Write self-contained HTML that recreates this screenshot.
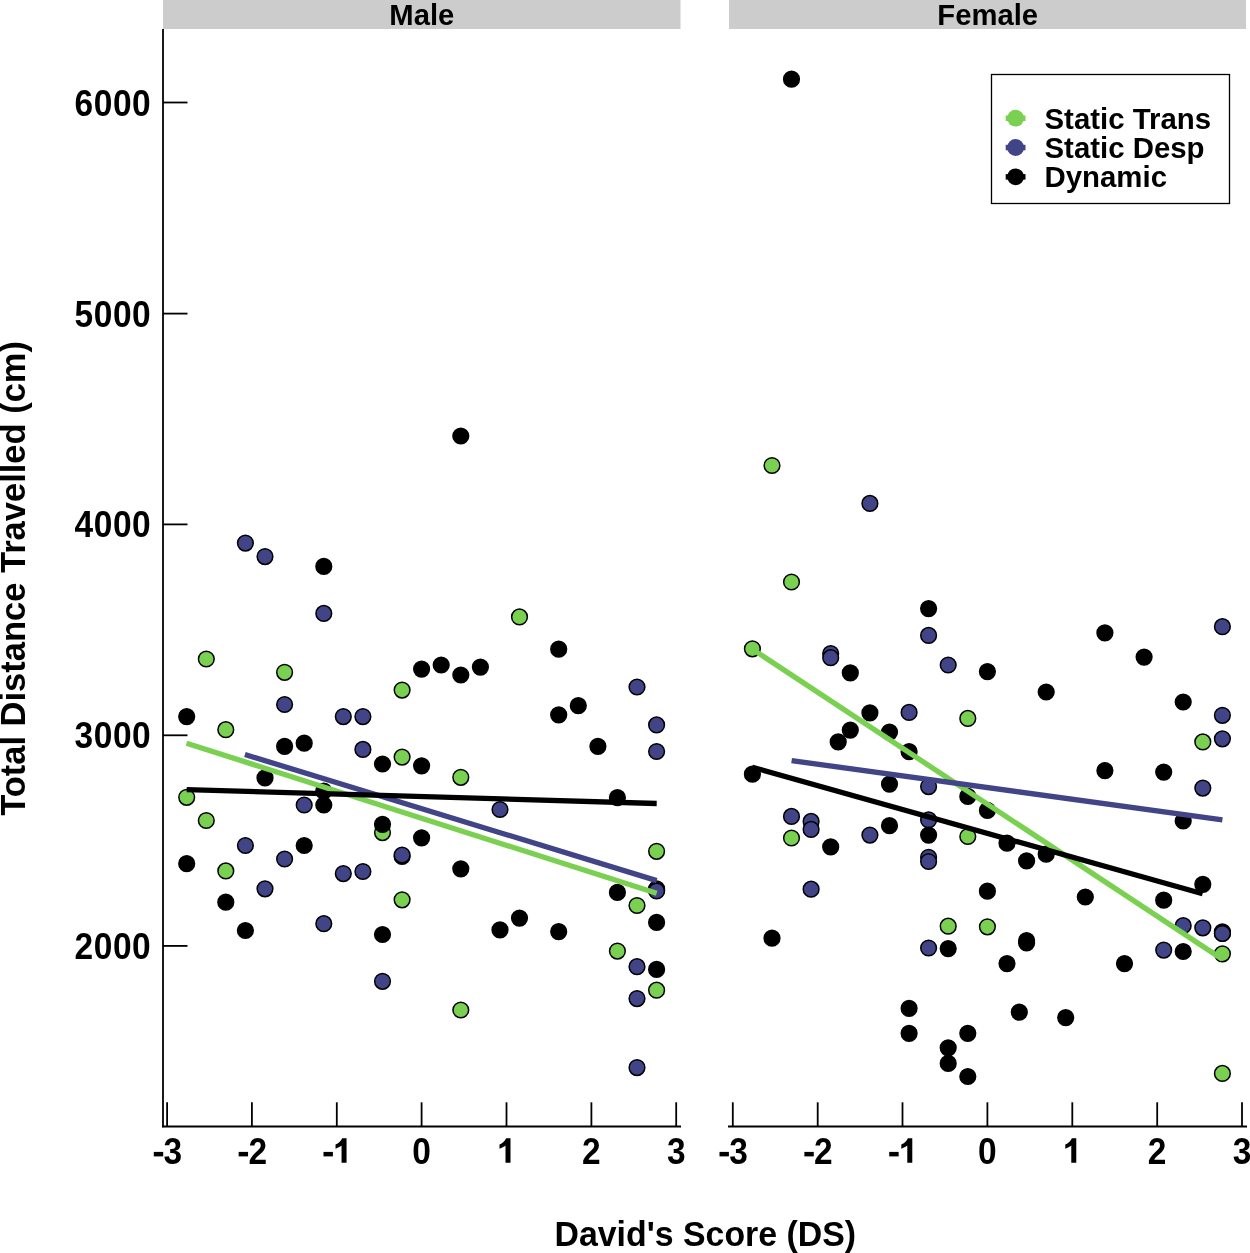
<!DOCTYPE html>
<html><head><meta charset="utf-8"><style>
html,body{margin:0;padding:0;background:#fff;}
svg{display:block;will-change:transform;}
text{font-family:"Liberation Sans",sans-serif;font-weight:bold;fill:#000;}
</style></head><body>
<svg width="1250" height="1253" viewBox="0 0 1250 1253">
<rect x="0" y="0" width="1250" height="1253" fill="#fff"/>
<rect x="163" y="0" width="517.5" height="29" fill="#cccccc"/>
<rect x="729" y="0" width="517" height="29" fill="#cccccc"/>
<g font-size="30"><text transform="translate(421.8,25.3) scale(0.975,1.0)" text-anchor="middle">Male</text><text transform="translate(987.7,25.3) scale(0.975,1.0)" text-anchor="middle">Female</text></g>
<g stroke="#000" stroke-width="1.5">
<circle cx="206.3" cy="659.0" r="7.85" fill="#7AD151"/>
<circle cx="284.6" cy="672.3" r="7.85" fill="#7AD151"/>
<circle cx="402.1" cy="690.1" r="7.85" fill="#7AD151"/>
<circle cx="225.8" cy="729.7" r="7.85" fill="#7AD151"/>
<circle cx="402.1" cy="757.1" r="7.85" fill="#7AD151"/>
<circle cx="186.7" cy="797.3" r="7.85" fill="#7AD151"/>
<circle cx="206.3" cy="820.5" r="7.85" fill="#7AD151"/>
<circle cx="382.5" cy="832.6" r="7.85" fill="#7AD151"/>
<circle cx="225.8" cy="870.9" r="7.85" fill="#7AD151"/>
<circle cx="402.1" cy="899.8" r="7.85" fill="#7AD151"/>
<circle cx="519.5" cy="616.9" r="7.85" fill="#7AD151"/>
<circle cx="460.8" cy="777.3" r="7.85" fill="#7AD151"/>
<circle cx="656.6" cy="851.3" r="7.85" fill="#7AD151"/>
<circle cx="637.0" cy="905.5" r="7.85" fill="#7AD151"/>
<circle cx="460.8" cy="1010.0" r="7.85" fill="#7AD151"/>
<circle cx="617.4" cy="951.1" r="7.85" fill="#7AD151"/>
<circle cx="656.6" cy="990.2" r="7.85" fill="#7AD151"/>
<circle cx="656.6" cy="888.8" r="7.85" fill="#7AD151"/>
<circle cx="245.4" cy="543.1" r="7.85" fill="#414487"/>
<circle cx="265.0" cy="556.6" r="7.85" fill="#414487"/>
<circle cx="323.8" cy="613.4" r="7.85" fill="#414487"/>
<circle cx="284.6" cy="704.5" r="7.85" fill="#414487"/>
<circle cx="343.3" cy="716.6" r="7.85" fill="#414487"/>
<circle cx="362.9" cy="716.6" r="7.85" fill="#414487"/>
<circle cx="362.9" cy="749.4" r="7.85" fill="#414487"/>
<circle cx="304.2" cy="805.0" r="7.85" fill="#414487"/>
<circle cx="245.4" cy="845.5" r="7.85" fill="#414487"/>
<circle cx="284.6" cy="859.0" r="7.85" fill="#414487"/>
<circle cx="343.3" cy="873.6" r="7.85" fill="#414487"/>
<circle cx="362.9" cy="871.5" r="7.85" fill="#414487"/>
<circle cx="265.0" cy="888.8" r="7.85" fill="#414487"/>
<circle cx="323.8" cy="923.7" r="7.85" fill="#414487"/>
<circle cx="382.5" cy="981.3" r="7.85" fill="#414487"/>
<circle cx="637.0" cy="687.0" r="7.85" fill="#414487"/>
<circle cx="656.6" cy="724.9" r="7.85" fill="#414487"/>
<circle cx="656.6" cy="751.5" r="7.85" fill="#414487"/>
<circle cx="500.0" cy="809.5" r="7.85" fill="#414487"/>
<circle cx="637.0" cy="966.7" r="7.85" fill="#414487"/>
<circle cx="637.0" cy="998.6" r="7.85" fill="#414487"/>
<circle cx="637.0" cy="1067.6" r="7.85" fill="#414487"/>
<circle cx="460.8" cy="436.0" r="7.85" fill="#000000"/>
<circle cx="323.8" cy="566.4" r="7.85" fill="#000000"/>
<circle cx="558.7" cy="649.2" r="7.85" fill="#000000"/>
<circle cx="421.6" cy="669.1" r="7.85" fill="#000000"/>
<circle cx="441.2" cy="665.0" r="7.85" fill="#000000"/>
<circle cx="460.8" cy="675.0" r="7.85" fill="#000000"/>
<circle cx="480.4" cy="667.1" r="7.85" fill="#000000"/>
<circle cx="186.7" cy="716.6" r="7.85" fill="#000000"/>
<circle cx="284.6" cy="746.3" r="7.85" fill="#000000"/>
<circle cx="304.2" cy="743.2" r="7.85" fill="#000000"/>
<circle cx="382.5" cy="764.0" r="7.85" fill="#000000"/>
<circle cx="421.6" cy="765.8" r="7.85" fill="#000000"/>
<circle cx="265.0" cy="777.9" r="7.85" fill="#000000"/>
<circle cx="323.8" cy="791.2" r="7.85" fill="#000000"/>
<circle cx="323.8" cy="805.0" r="7.85" fill="#000000"/>
<circle cx="382.5" cy="824.3" r="7.85" fill="#000000"/>
<circle cx="421.6" cy="837.8" r="7.85" fill="#000000"/>
<circle cx="304.2" cy="845.5" r="7.85" fill="#000000"/>
<circle cx="402.1" cy="856.5" r="7.85" fill="#000000"/>
<circle cx="186.7" cy="863.7" r="7.85" fill="#000000"/>
<circle cx="225.8" cy="902.2" r="7.85" fill="#000000"/>
<circle cx="245.4" cy="930.5" r="7.85" fill="#000000"/>
<circle cx="382.5" cy="934.5" r="7.85" fill="#000000"/>
<circle cx="558.7" cy="714.9" r="7.85" fill="#000000"/>
<circle cx="578.3" cy="705.7" r="7.85" fill="#000000"/>
<circle cx="597.9" cy="746.3" r="7.85" fill="#000000"/>
<circle cx="617.4" cy="797.7" r="7.85" fill="#000000"/>
<circle cx="460.8" cy="868.8" r="7.85" fill="#000000"/>
<circle cx="617.4" cy="892.4" r="7.85" fill="#000000"/>
<circle cx="500.0" cy="929.9" r="7.85" fill="#000000"/>
<circle cx="519.5" cy="918.1" r="7.85" fill="#000000"/>
<circle cx="558.7" cy="931.6" r="7.85" fill="#000000"/>
<circle cx="656.6" cy="922.4" r="7.85" fill="#000000"/>
<circle cx="656.6" cy="969.4" r="7.85" fill="#000000"/>
<circle cx="402.1" cy="855.0" r="7.85" fill="#414487"/>
<circle cx="656.6" cy="890.2" r="7.85" fill="#414487"/>
<circle cx="656.6" cy="891.0" r="7.85" fill="#414487"/>
<circle cx="772.0" cy="465.5" r="7.85" fill="#7AD151"/>
<circle cx="791.5" cy="582.0" r="7.85" fill="#7AD151"/>
<circle cx="752.4" cy="648.8" r="7.85" fill="#7AD151"/>
<circle cx="967.8" cy="718.4" r="7.85" fill="#7AD151"/>
<circle cx="791.5" cy="838.0" r="7.85" fill="#7AD151"/>
<circle cx="967.8" cy="836.5" r="7.85" fill="#7AD151"/>
<circle cx="948.2" cy="926.2" r="7.85" fill="#7AD151"/>
<circle cx="987.4" cy="926.8" r="7.85" fill="#7AD151"/>
<circle cx="1202.8" cy="741.9" r="7.85" fill="#7AD151"/>
<circle cx="1222.4" cy="953.8" r="7.85" fill="#7AD151"/>
<circle cx="1222.4" cy="1073.4" r="7.85" fill="#7AD151"/>
<circle cx="869.9" cy="503.4" r="7.85" fill="#414487"/>
<circle cx="928.6" cy="635.4" r="7.85" fill="#414487"/>
<circle cx="830.7" cy="653.5" r="7.85" fill="#414487"/>
<circle cx="830.7" cy="657.7" r="7.85" fill="#414487"/>
<circle cx="948.2" cy="665.0" r="7.85" fill="#414487"/>
<circle cx="909.1" cy="712.4" r="7.85" fill="#414487"/>
<circle cx="928.6" cy="786.6" r="7.85" fill="#414487"/>
<circle cx="791.5" cy="816.4" r="7.85" fill="#414487"/>
<circle cx="811.1" cy="821.4" r="7.85" fill="#414487"/>
<circle cx="811.1" cy="829.4" r="7.85" fill="#414487"/>
<circle cx="869.9" cy="835.1" r="7.85" fill="#414487"/>
<circle cx="928.6" cy="819.9" r="7.85" fill="#414487"/>
<circle cx="928.6" cy="857.3" r="7.85" fill="#414487"/>
<circle cx="928.6" cy="861.5" r="7.85" fill="#414487"/>
<circle cx="811.1" cy="889.2" r="7.85" fill="#414487"/>
<circle cx="928.6" cy="948.0" r="7.85" fill="#414487"/>
<circle cx="1222.4" cy="626.7" r="7.85" fill="#414487"/>
<circle cx="1222.4" cy="715.3" r="7.85" fill="#414487"/>
<circle cx="1222.4" cy="738.8" r="7.85" fill="#414487"/>
<circle cx="1202.8" cy="788.1" r="7.85" fill="#414487"/>
<circle cx="1183.2" cy="925.7" r="7.85" fill="#414487"/>
<circle cx="1202.8" cy="927.8" r="7.85" fill="#414487"/>
<circle cx="1163.7" cy="950.1" r="7.85" fill="#414487"/>
<circle cx="791.5" cy="79.2" r="7.85" fill="#000000"/>
<circle cx="928.6" cy="608.6" r="7.85" fill="#000000"/>
<circle cx="850.3" cy="672.9" r="7.85" fill="#000000"/>
<circle cx="987.4" cy="671.6" r="7.85" fill="#000000"/>
<circle cx="869.9" cy="712.8" r="7.85" fill="#000000"/>
<circle cx="850.3" cy="730.1" r="7.85" fill="#000000"/>
<circle cx="889.5" cy="732.1" r="7.85" fill="#000000"/>
<circle cx="838.2" cy="741.9" r="7.85" fill="#000000"/>
<circle cx="909.1" cy="751.7" r="7.85" fill="#000000"/>
<circle cx="752.4" cy="774.2" r="7.85" fill="#000000"/>
<circle cx="889.5" cy="784.1" r="7.85" fill="#000000"/>
<circle cx="967.8" cy="796.4" r="7.85" fill="#000000"/>
<circle cx="987.4" cy="810.3" r="7.85" fill="#000000"/>
<circle cx="830.7" cy="846.9" r="7.85" fill="#000000"/>
<circle cx="889.5" cy="825.7" r="7.85" fill="#000000"/>
<circle cx="928.6" cy="835.1" r="7.85" fill="#000000"/>
<circle cx="987.4" cy="891.2" r="7.85" fill="#000000"/>
<circle cx="772.0" cy="938.2" r="7.85" fill="#000000"/>
<circle cx="948.2" cy="948.6" r="7.85" fill="#000000"/>
<circle cx="909.1" cy="1008.3" r="7.85" fill="#000000"/>
<circle cx="909.1" cy="1033.3" r="7.85" fill="#000000"/>
<circle cx="967.8" cy="1033.3" r="7.85" fill="#000000"/>
<circle cx="948.2" cy="1047.8" r="7.85" fill="#000000"/>
<circle cx="948.2" cy="1063.4" r="7.85" fill="#000000"/>
<circle cx="967.8" cy="1076.5" r="7.85" fill="#000000"/>
<circle cx="1046.2" cy="692.0" r="7.85" fill="#000000"/>
<circle cx="1144.1" cy="657.1" r="7.85" fill="#000000"/>
<circle cx="1104.9" cy="632.9" r="7.85" fill="#000000"/>
<circle cx="1183.2" cy="702.0" r="7.85" fill="#000000"/>
<circle cx="1104.9" cy="770.6" r="7.85" fill="#000000"/>
<circle cx="1163.7" cy="772.1" r="7.85" fill="#000000"/>
<circle cx="1183.2" cy="821.0" r="7.85" fill="#000000"/>
<circle cx="1007.0" cy="843.2" r="7.85" fill="#000000"/>
<circle cx="1026.6" cy="860.9" r="7.85" fill="#000000"/>
<circle cx="1046.2" cy="854.2" r="7.85" fill="#000000"/>
<circle cx="1085.3" cy="897.0" r="7.85" fill="#000000"/>
<circle cx="1163.7" cy="900.2" r="7.85" fill="#000000"/>
<circle cx="1202.8" cy="884.3" r="7.85" fill="#000000"/>
<circle cx="1026.6" cy="940.5" r="7.85" fill="#000000"/>
<circle cx="1026.6" cy="943.0" r="7.85" fill="#000000"/>
<circle cx="1007.0" cy="963.6" r="7.85" fill="#000000"/>
<circle cx="1124.5" cy="963.6" r="7.85" fill="#000000"/>
<circle cx="1019.3" cy="1012.2" r="7.85" fill="#000000"/>
<circle cx="1065.7" cy="1017.6" r="7.85" fill="#000000"/>
<circle cx="1222.4" cy="931.8" r="7.85" fill="#000000"/>
<circle cx="1183.2" cy="951.5" r="7.85" fill="#000000"/>
<circle cx="1222.4" cy="933.5" r="7.85" fill="#7AD151"/>
<circle cx="1222.4" cy="933.5" r="7.85" fill="#414487"/>
</g>
<g stroke-width="5.3" stroke-linecap="butt">
<line x1="186.5" y1="743.2" x2="656.7" y2="893.3" stroke="#7AD151"/>
<line x1="244.9" y1="754.5" x2="656.7" y2="880.6" stroke="#414487"/>
<line x1="186.7" y1="789.6" x2="656.7" y2="803.5" stroke="#000000"/>
<line x1="752.3" y1="649.1" x2="1222.4" y2="959.2" stroke="#7AD151"/>
<line x1="791.6" y1="760.6" x2="1222.4" y2="819.9" stroke="#414487"/>
<line x1="752.3" y1="767.3" x2="1202.6" y2="893.7" stroke="#000000"/>
</g>
<g stroke="#000" stroke-width="1.8" stroke-linecap="butt">
<line x1="163" y1="29" x2="163" y2="1127.2" />
<line x1="162" y1="1126.5" x2="681" y2="1126.5" />
<line x1="728" y1="1126.5" x2="1247" y2="1126.5" />
<line x1="163" y1="102.5" x2="187.5" y2="102.5" />
<line x1="163" y1="313.6" x2="187.5" y2="313.6" />
<line x1="163" y1="524.4" x2="187.5" y2="524.4" />
<line x1="163" y1="735.3" x2="187.5" y2="735.3" />
<line x1="163" y1="945.9" x2="187.5" y2="945.9" />
<line x1="167.1" y1="1102.3" x2="167.1" y2="1126.5" />
<line x1="732.8" y1="1102.3" x2="732.8" y2="1126.5" />
<line x1="251.9" y1="1102.3" x2="251.9" y2="1126.5" />
<line x1="817.7" y1="1102.3" x2="817.7" y2="1126.5" />
<line x1="336.8" y1="1102.3" x2="336.8" y2="1126.5" />
<line x1="902.5" y1="1102.3" x2="902.5" y2="1126.5" />
<line x1="421.6" y1="1102.3" x2="421.6" y2="1126.5" />
<line x1="987.4" y1="1102.3" x2="987.4" y2="1126.5" />
<line x1="506.5" y1="1102.3" x2="506.5" y2="1126.5" />
<line x1="1072.3" y1="1102.3" x2="1072.3" y2="1126.5" />
<line x1="591.4" y1="1102.3" x2="591.4" y2="1126.5" />
<line x1="1157.2" y1="1102.3" x2="1157.2" y2="1126.5" />
<line x1="676.2" y1="1102.3" x2="676.2" y2="1126.5" />
<line x1="1242.0" y1="1102.3" x2="1242.0" y2="1126.5" />
</g>
<g font-size="34.5">
<text transform="translate(83.86,115.55) scale(0.97,1.065)" text-anchor="middle">6</text>
<text transform="translate(103.04,115.55) scale(0.97,1.065)" text-anchor="middle">0</text>
<text transform="translate(122.23,115.55) scale(0.97,1.065)" text-anchor="middle">0</text>
<text transform="translate(141.41,115.55) scale(0.97,1.065)" text-anchor="middle">0</text>
<text transform="translate(83.86,326.65) scale(0.97,1.065)" text-anchor="middle">5</text>
<text transform="translate(103.04,326.65) scale(0.97,1.065)" text-anchor="middle">0</text>
<text transform="translate(122.23,326.65) scale(0.97,1.065)" text-anchor="middle">0</text>
<text transform="translate(141.41,326.65) scale(0.97,1.065)" text-anchor="middle">0</text>
<text transform="translate(83.86,537.45) scale(0.97,1.065)" text-anchor="middle">4</text>
<text transform="translate(103.04,537.45) scale(0.97,1.065)" text-anchor="middle">0</text>
<text transform="translate(122.23,537.45) scale(0.97,1.065)" text-anchor="middle">0</text>
<text transform="translate(141.41,537.45) scale(0.97,1.065)" text-anchor="middle">0</text>
<text transform="translate(83.86,748.35) scale(0.97,1.065)" text-anchor="middle">3</text>
<text transform="translate(103.04,748.35) scale(0.97,1.065)" text-anchor="middle">0</text>
<text transform="translate(122.23,748.35) scale(0.97,1.065)" text-anchor="middle">0</text>
<text transform="translate(141.41,748.35) scale(0.97,1.065)" text-anchor="middle">0</text>
<text transform="translate(83.86,958.95) scale(0.97,1.065)" text-anchor="middle">2</text>
<text transform="translate(103.04,958.95) scale(0.97,1.065)" text-anchor="middle">0</text>
<text transform="translate(122.23,958.95) scale(0.97,1.065)" text-anchor="middle">0</text>
<text transform="translate(141.41,958.95) scale(0.97,1.065)" text-anchor="middle">0</text>
<rect x="153.80" y="1151.9" width="9.4" height="4.5"/>
<text transform="translate(172.85,1163.9) scale(0.97,1.065)" text-anchor="middle">3</text>
<rect x="719.50" y="1151.9" width="9.4" height="4.5"/>
<text transform="translate(738.55,1163.9) scale(0.97,1.065)" text-anchor="middle">3</text>
<rect x="238.65" y="1151.9" width="9.4" height="4.5"/>
<text transform="translate(257.70,1163.9) scale(0.97,1.065)" text-anchor="middle">2</text>
<rect x="804.37" y="1151.9" width="9.4" height="4.5"/>
<text transform="translate(823.42,1163.9) scale(0.97,1.065)" text-anchor="middle">2</text>
<rect x="323.50" y="1151.9" width="9.4" height="4.5"/>
<path d="M346.55,1138.30 L346.55,1162.80 L341.55,1162.80 L341.55,1145.60 C339.95,1146.90 337.75,1148.10 335.55,1148.70 L335.55,1144.40 C338.55,1143.40 340.95,1141.20 342.15,1138.30 Z"/>
<rect x="889.24" y="1151.9" width="9.4" height="4.5"/>
<path d="M912.29,1138.30 L912.29,1162.80 L907.29,1162.80 L907.29,1145.60 C905.69,1146.90 903.49,1148.10 901.29,1148.70 L901.29,1144.40 C904.29,1143.40 906.69,1141.20 907.89,1138.30 Z"/>
<text transform="translate(421.65,1163.9) scale(0.97,1.065)" text-anchor="middle">0</text>
<text transform="translate(987.41,1163.9) scale(0.97,1.065)" text-anchor="middle">0</text>
<path d="M510.50,1138.30 L510.50,1162.80 L505.50,1162.80 L505.50,1145.60 C503.90,1146.90 501.70,1148.10 499.50,1148.70 L499.50,1144.40 C502.50,1143.40 504.90,1141.20 506.10,1138.30 Z"/>
<path d="M1076.28,1138.30 L1076.28,1162.80 L1071.28,1162.80 L1071.28,1145.60 C1069.68,1146.90 1067.48,1148.10 1065.28,1148.70 L1065.28,1144.40 C1068.28,1143.40 1070.68,1141.20 1071.88,1138.30 Z"/>
<text transform="translate(591.35,1163.9) scale(0.97,1.065)" text-anchor="middle">2</text>
<text transform="translate(1157.15,1163.9) scale(0.97,1.065)" text-anchor="middle">2</text>
<text transform="translate(676.20,1163.9) scale(0.97,1.065)" text-anchor="middle">3</text>
<text transform="translate(1242.02,1163.9) scale(0.97,1.065)" text-anchor="middle">3</text>
</g>
<text font-size="34.5" transform="translate(705.3,1245.8) scale(0.982,1.02)" text-anchor="middle">David's Score (DS)</text>
<text font-size="34.5" transform="translate(25,578.4) rotate(-90)" text-anchor="middle">Total Distance Travelled (cm)</text>
<g>
<rect x="991.5" y="74.5" width="238" height="129" fill="#fff" stroke="#000" stroke-width="1.3"/>
<rect x="1005.7" y="115.5" width="19.8" height="5.5" fill="#7AD151"/>
<circle cx="1015.6" cy="118.2" r="8.4" fill="#7AD151"/>
<rect x="1005.7" y="144.8" width="19.8" height="5.5" fill="#414487"/>
<circle cx="1015.6" cy="147.5" r="8.4" fill="#414487"/>
<rect x="1005.7" y="174.1" width="19.8" height="5.5" fill="#000"/>
<circle cx="1015.6" cy="176.8" r="8.4" fill="#000"/>
<g font-size="29.4"><text transform="translate(1044.5,128.6) scale(1,1.02)">Static Trans</text><text transform="translate(1044.5,157.8) scale(1,1.02)">Static Desp</text><text transform="translate(1044.5,187) scale(1,1.02)">Dynamic</text></g>
</g>
</svg>
</body></html>
